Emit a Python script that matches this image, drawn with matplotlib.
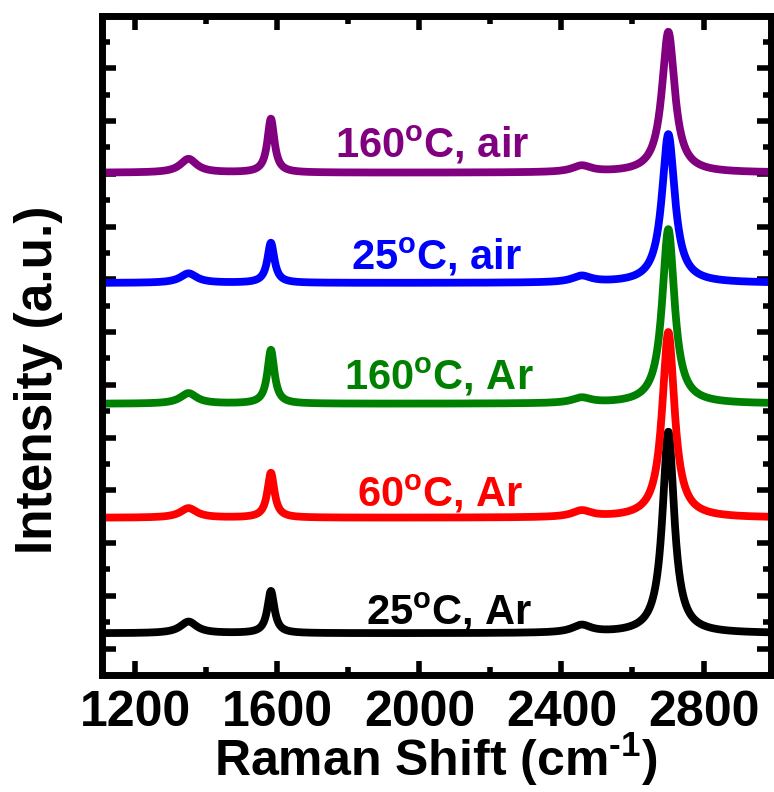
import numpy as np
import matplotlib
matplotlib.use('Agg')
from matplotlib import pyplot as plt
from matplotlib.ticker import MultipleLocator

plt.rcParams['font.family'] = 'Liberation Sans'
plt.rcParams['font.weight'] = 'bold'
plt.rcParams['mathtext.fontset'] = 'custom'
plt.rcParams['mathtext.rm'] = 'Liberation Sans:bold'
plt.rcParams['mathtext.bf'] = 'Liberation Sans:bold'

#-------peak data-------
# band centres (cm-1): D, G, D+D'', 2D
centers = [1350, 1582, 2457, 2701]

labels = ['25$^{\\rm o}$C, Ar', '60$^{\\rm o}$C, Ar', '160$^{\\rm o}$C, Ar',
          '25$^{\\rm o}$C, air', '160$^{\\rm o}$C, air']
colors = ['black', 'red', 'green', 'blue', 'purple']
offsets = [0.29, 2.48, 4.64, 6.93, 9.02]
# heights of D, G, D+D'', 2D above each baseline
h_D = [0.22, 0.18, 0.20, 0.18, 0.26]
h_G = [0.80, 0.85, 1.02, 0.76, 1.02]
h_DD = [0.14, 0.12, 0.10, 0.12, 0.12]
h_2D = [3.82, 3.52, 3.31, 2.82, 2.67]
# half widths (cm-1) of D, G, D+D'', 2D
w_D = [28, 28, 28, 28, 28]
w_G = [12, 12, 12, 12, 12]
w_DD = [32, 32, 32, 32, 32]
w_2D = [20, 21, 21, 22, 22]

label_x = [2085, 2060, 2054, 2048, 2037]
label_y = [0.46, 2.69, 4.91, 7.18, 9.30]

x = np.linspace(1100, 3000, 2000)

def lor(x, c, w):
    return 1.0 / (1.0 + ((x - c) / w) ** 2)

fig = plt.figure(figsize=(7.74, 7.92), dpi=100)
ax = fig.add_axes([101.5/774, 1-675/792, (771-101.5)/774, (675-15.5)/792])

for i in range(len(labels)):
    hs = [h_D[i], h_G[i], h_DD[i], h_2D[i]]
    ws = [w_D[i], w_G[i], w_DD[i], w_2D[i]]
    y = offsets[i] + sum(h * lor(x, c, w) for h, c, w in zip(hs, centers, ws))
    ax.plot(x, y, color=colors[i], lw=5.6)
    ax.text(label_x[i], label_y[i], labels[i], color=colors[i], fontsize=30,
            fontweight='bold', ha='center', va='baseline')

ax.set_xlim(1105, 2990)
ax.set_ylim(-0.5, 12)
ax.xaxis.set_major_locator(MultipleLocator(400))
ax.xaxis.set_minor_locator(MultipleLocator(200))
ax.yaxis.set_major_locator(MultipleLocator(1))
ax.yaxis.set_minor_locator(MultipleLocator(0.5))
ax.tick_params(which='both', direction='in', top=True, right=True, width=4)
ax.tick_params(which='major', length=10)
ax.tick_params(which='minor', length=6)
ax.tick_params(axis='x', labelsize=36, pad=11)
ax.tick_params(axis='y', labelleft=False)
for s in ax.spines.values():
    s.set_linewidth(5)

ax.set_xlabel('Raman Shift (cm$^{\u2010\\rm 1}$)', fontsize=36, fontweight='bold', labelpad=-4)
ax.set_ylabel('Intensity (a.u.)', fontsize=37, fontweight='bold')
ax.yaxis.set_label_coords(-0.0575, 0.447)

plt.savefig('out.png', dpi=100)
